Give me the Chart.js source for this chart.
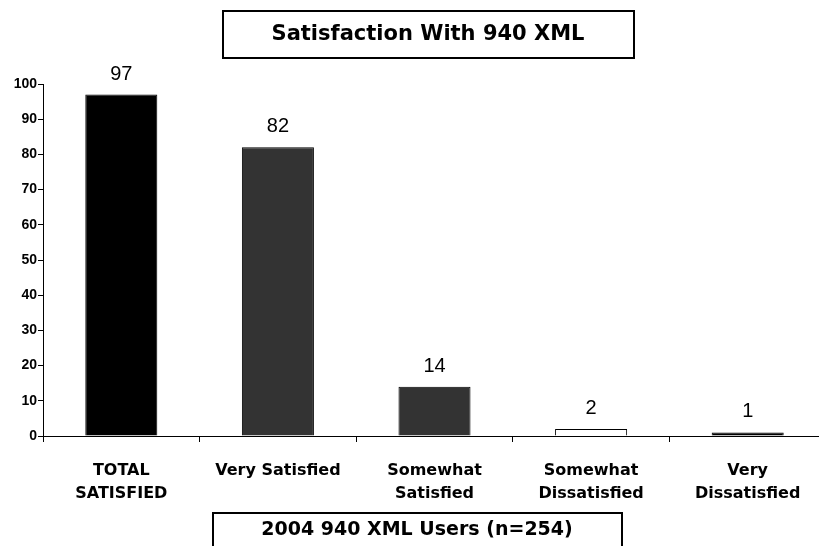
<!DOCTYPE html>
<html>
<head>
<meta charset="utf-8">
<script src="https://cdn.jsdelivr.net/npm/chart.js@4.4.0/dist/chart.umd.min.js"></script>
<style>
  html, body { margin: 0; padding: 0; background: #fff; overflow: hidden; }
  #wrap { width: 826px; height: 546px; }
</style>
</head>
<body>
<div id="wrap"><canvas id="satChart" width="826" height="546"></canvas></div>
<script>
const categories = [['TOTAL', 'SATISFIED'], 'Very Satisfied', ['Somewhat', 'Satisfied'], ['Somewhat', 'Dissatisfied'], ['Very', 'Dissatisfied']];
const percents = [97, 82, 14, 2, 1];
const barColors = ['#000000', '#333333', '#333333', '#ffffff', '#000000'];
const yTicks = [0, 10, 20, 30, 40, 50, 60, 70, 80, 90, 100];
const chartTitle = 'Satisfaction With 940 XML';
const footNote = '2004 940 XML Users (n=254)';

// boxes for the title and the footnote, plus value labels over the bars
const extras = {
  id: 'extras',
  afterDraw(chart) {
    const c = chart.ctx;
    c.save();
    c.strokeStyle = '#000';
    c.lineWidth = 2;
    c.strokeRect(223, 11, 411, 47);
    c.strokeRect(213, 513, 409, 40);
    c.fillStyle = '#000';
    c.textAlign = 'center';
    c.textBaseline = 'middle';
    c.font = 'bold 21px "DejaVu Sans"';
    c.fillText(chartTitle, 428, 35);
    c.font = 'bold 19px "DejaVu Sans"';
    c.fillText(footNote, 417, 530);
    c.font = '20px "Liberation Sans"';
    c.textBaseline = 'alphabetic';
    const meta = chart.getDatasetMeta(0);
    meta.data.forEach((bar, i) => {
      c.fillText(String(percents[i]), bar.x, bar.y - 15);
    });
    c.restore();
  }
};

new Chart(document.getElementById('satChart'), {
  type: 'bar',
  data: {
    labels: categories,
    datasets: [{
      data: percents,
      backgroundColor: barColors,
      borderColor: '#000',
      borderWidth: 1,
      barPercentage: 0.92,
      categoryPercentage: 0.5
    }]
  },
  options: {
    responsive: false,
    animation: false,
    layout: { padding: { top: 84, right: 0, left: 0, bottom: 0 } },
    plugins: { legend: { display: false }, tooltip: { enabled: false } },
    scales: {
      x: {
        offset: true,
        grid: { offset: true, drawOnChartArea: false, tickLength: 6, color: '#000', lineWidth: 1 },
        border: { color: '#000', width: 1 },
        ticks: {
          color: '#000',
          font: { family: 'DejaVu Sans', size: 16, weight: 'bold', lineHeight: 1.45 },
          maxRotation: 0,
          autoSkip: false,
          padding: 17
        },
        afterFit(scale) { scale.height = 110; }
      },
      y: {
        min: 0,
        max: 100,
        afterBuildTicks(scale) { scale.ticks = yTicks.map(v => ({ value: v })); },
        grid: { drawOnChartArea: false, tickLength: 5, color: '#000' },
        border: { color: '#000', width: 1 },
        ticks: {
          color: '#000',
          font: { family: 'Liberation Sans', size: 14, weight: 'bold' },
          padding: 1
        },
        afterFit(scale) { scale.width = 43; }
      }
    }
  },
  plugins: [extras]
});
</script>
</body>
</html>
